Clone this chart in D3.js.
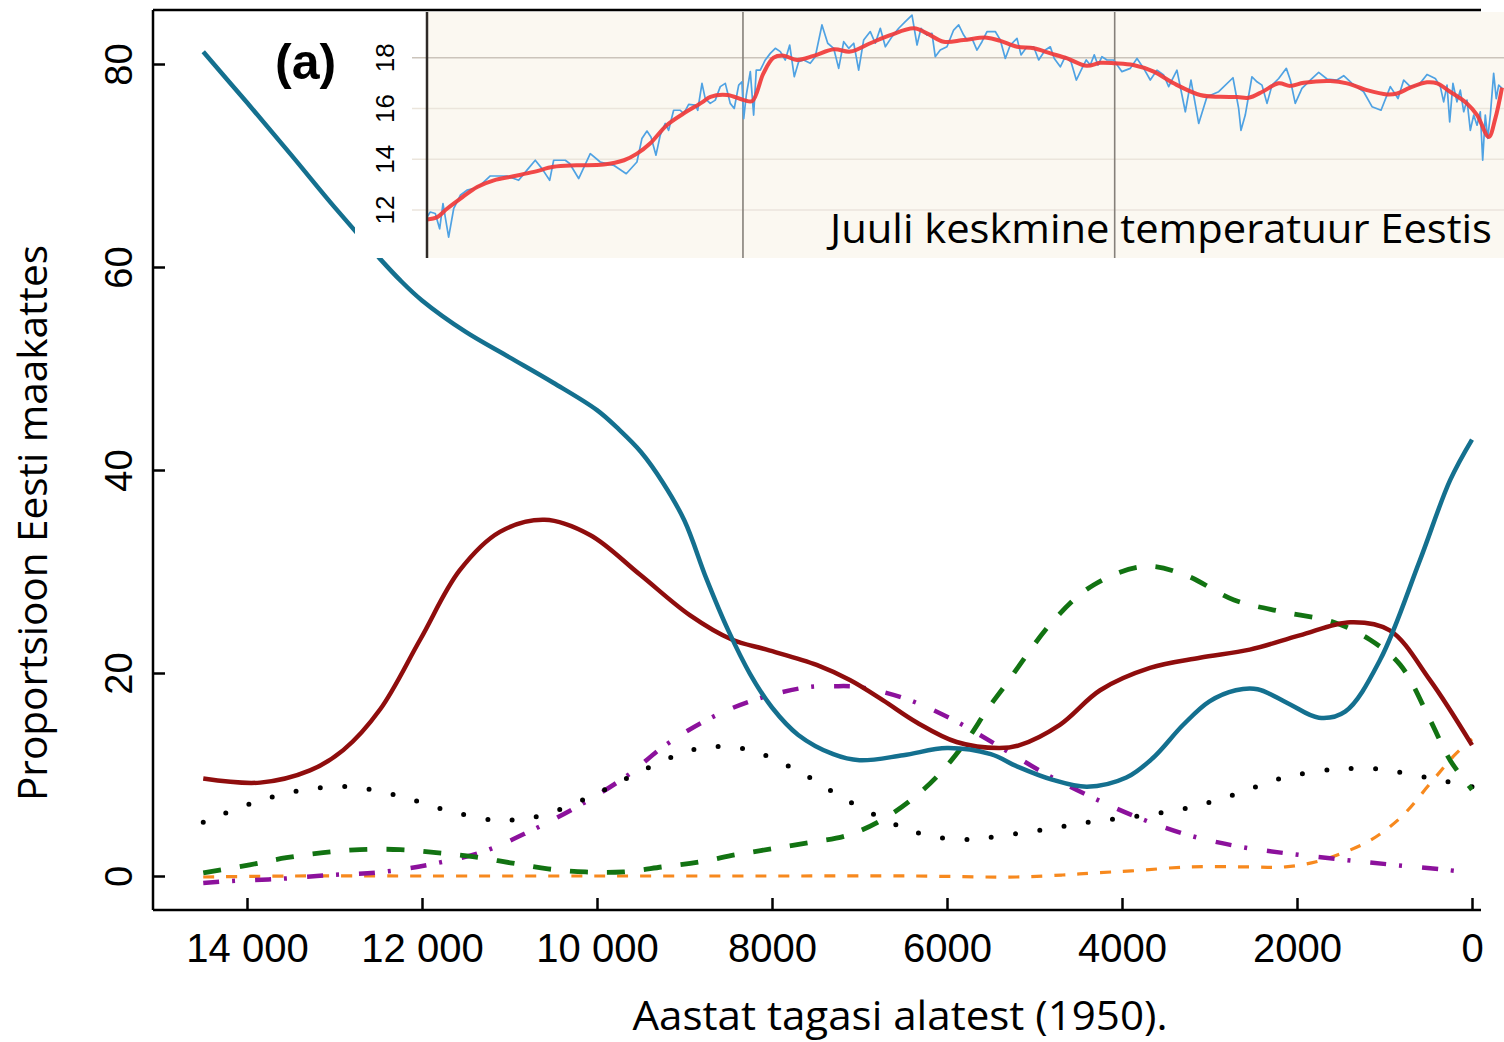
<!DOCTYPE html>
<html><head><meta charset="utf-8">
<script src="https://cdn.jsdelivr.net/npm/d3@7"></script>
<style>body{margin:0;background:#fff;} svg{display:block;}</style>
</head><body>
<svg id="c" width="1504" height="1042"></svg>
<script>
// ---------- main chart data (years BP, proportion %) ----------
const xTickValues = [14000, 12000, 10000, 8000, 6000, 4000, 2000, 0];
const xTickLabels = ["14 000", "12 000", "10 000", "8000", "6000", "4000", "2000", "0"];
const yTickValues = [0, 20, 40, 60, 80];

const seriesTeal = [[14500,81.2],[14000,76.2],[13500,71.1],[13000,65.9],[12500,61.0],[12250,58.7],[12000,56.7],[11500,53.6],[11000,51.1],[10500,48.6],[10000,45.9],[9750,44.0],[9500,41.8],[9250,38.8],[9000,35.0],[8750,29.3],[8500,24.2],[8250,19.9],[8000,16.6],[7700,13.9],[7300,12.0],[7000,11.4],[6500,11.9],[6000,12.6],[5500,12.0],[5200,10.8],[4800,9.5],[4400,8.8],[3950,9.7],[3650,11.6],[3300,14.9],[3000,17.2],[2700,18.3],[2450,18.4],[2100,17.0],[1750,15.6],[1450,16.2],[1050,21.3],[600,31.0],[250,39.0],[0,43.0]];
const seriesDarkRed = [[14500,9.6],[13850,9.2],[13280,10.4],[12900,12.4],[12480,16.4],[12020,23.3],[11570,30.1],[11110,33.9],[10600,35.1],[10080,33.6],[9510,29.7],[8940,25.7],[8460,23.3],[8060,22.3],[7490,20.8],[7110,19.3],[6730,17.3],[6340,15.1],[5890,13.2],[5400,12.6],[5170,12.9],[4710,14.9],[4250,18.3],[3680,20.5],[3110,21.5],[2540,22.3],[1970,23.7],[1390,25.0],[940,24.2],[480,19.3],[0,12.9]];
const seriesGreen = [[14500,0.3],[13970,1.1],[13550,1.8],[13130,2.3],[12710,2.6],[12250,2.6],[11840,2.3],[11420,1.9],[10990,1.3],[10560,0.7],[10130,0.4],[9700,0.4],[9250,0.9],[8820,1.4],[8410,2.1],[7990,2.7],[7570,3.3],[7140,4.0],[6750,5.5],[6380,7.7],[6070,10.2],[5770,13.4],[5540,16.4],[5350,18.6],[4780,25.2],[4320,28.7],[3750,30.5],[3290,29.7],[2720,27.2],[2150,26.0],[1580,25.0],[1170,23.3],[820,20.8],[480,15.4],[250,11.4],[0,8.5]];
const seriesBlackDotted = [[14500,5.3],[13970,7.1],[13410,8.4],[12850,8.8],[12270,7.9],[11730,6.5],[11170,5.5],[10880,5.6],[10580,6.1],[10060,7.9],[9550,10.1],[9030,12.1],[8750,12.7],[8460,12.7],[8170,12.2],[7650,10.1],[7170,7.6],[6650,5.3],[6390,4.4],[6100,3.8],[5820,3.6],[5520,3.8],[4950,4.5],[4380,5.3],[3820,5.9],[3250,6.7],[2690,8.1],[2150,9.7],[1590,10.5],[1300,10.6],[1030,10.5],[460,9.6],[0,8.8]];
const seriesPurple = [[14500,-0.7],[14190,-0.5],[13660,-0.3],[13030,0.1],[12450,0.4],[11870,1.2],[11300,2.4],[10770,4.4],[10190,7.0],[9620,10.1],[9250,12.7],[8740,15.4],[8220,17.3],[7600,18.6],[7300,18.7],[6990,18.6],[6420,17.3],[5890,15.2],[5430,12.9],[4860,10.0],[4330,7.7],[3800,5.7],[3230,4.0],[2660,2.9],[2090,2.2],[1470,1.6],[900,1.1],[290,0.6],[0,0.3]];
const seriesOrange = [[14500,-0.1],[13500,0.0],[12000,0.0],[10000,0.0],[8000,0.0],[6400,0.0],[5200,-0.1],[4680,0.1],[4330,0.3],[3890,0.5],[3230,0.9],[2570,0.9],[2130,0.9],[1780,1.4],[1470,2.3],[1165,3.5],[810,5.8],[460,9.3],[200,11.9],[0,13.5]];

// ---------- inset data (years BP, July temperature °C) ----------
const insetTickValues = [12, 14, 16, 18];
const insetPeriodLines = [8200, 4200];
const insetRaw = [[11600,11.72],[11565,11.92],[11511,11.86],[11464,11.26],[11428,12.25],[11367,10.93],[11313,12.05],[11242,12.58],[11170,12.78],[11098,12.84],[11027,12.97],[10919,13.34],[10739,13.34],[10614,13.17],[10524,13.57],[10435,13.96],[10363,13.63],[10280,13.17],[10237,13.96],[10112,13.96],[10065,13.83],[9968,13.24],[9843,14.22],[9736,13.89],[9591,13.76],[9456,13.43],[9341,13.89],[9287,14.82],[9233,15.11],[9190,14.88],[9136,14.16],[9090,14.95],[9036,15.41],[9000,15.14],[8946,15.93],[8875,15.93],[8838,15.8],[8784,16.16],[8713,16.13],[8687,15.93],[8641,16.99],[8606,16.39],[8552,16.2],[8498,16.33],[8444,16.86],[8390,16.99],[8337,16.2],[8294,16.0],[8246,16.92],[8211,17.05],[8192,15.6],[8164,16.53],[8121,17.45],[8085,15.74],[8057,17.51],[8014,17.51],[7960,17.91],[7906,18.17],[7852,18.37],[7798,18.24],[7745,17.91],[7697,18.5],[7648,17.25],[7601,17.84],[7547,17.91],[7476,17.78],[7422,18.04],[7350,19.29],[7288,18.57],[7224,18.37],[7170,17.58],[7116,18.63],[7062,18.37],[7008,18.57],[6955,17.51],[6901,18.7],[6830,19.03],[6776,18.57],[6722,19.16],[6668,18.43],[6596,18.83],[6524,19.16],[6453,19.42],[6381,19.68],[6327,18.5],[6284,19.16],[6220,18.89],[6166,18.96],[6131,18.04],[6077,18.3],[6005,18.43],[5933,19.09],[5879,19.29],[5825,18.89],[5789,18.7],[5736,18.76],[5682,18.3],[5628,18.63],[5574,19.03],[5485,19.03],[5431,18.7],[5377,17.97],[5323,18.5],[5251,18.76],[5208,18.11],[5144,18.43],[5072,18.43],[5018,17.91],[4947,18.3],[4893,18.43],[4850,17.97],[4785,17.64],[4732,18.04],[4670,17.84],[4613,17.12],[4552,17.58],[4506,17.91],[4463,17.71],[4420,18.11],[4380,17.71],[4337,18.04],[4283,17.91],[4211,17.91],[4122,17.45],[4032,17.58],[3960,17.97],[3888,17.58],[3817,17.12],[3745,17.51],[3673,17.32],[3619,16.86],[3530,17.51],[3440,15.87],[3379,17.12],[3296,15.41],[3207,16.46],[3081,16.66],[2927,17.21],[2866,16.0],[2841,15.14],[2795,15.74],[2723,17.25],[2669,17.05],[2615,16.92],[2561,16.2],[2507,16.92],[2435,17.18],[2353,17.58],[2310,17.12],[2257,16.2],[2185,16.79],[2095,17.12],[2005,17.42],[1915,17.16],[1808,17.12],[1736,17.29],[1646,16.99],[1521,16.66],[1431,16.07],[1334,15.93],[1234,16.86],[1151,16.39],[1090,17.12],[1019,16.86],[929,16.92],[839,17.34],[750,17.18],[696,16.86],[660,16.26],[624,16.92],[595,15.47],[560,16.99],[517,16.26],[481,16.72],[444,15.87],[409,16.33],[373,15.14],[337,15.74],[301,15.34],[266,15.87],[240,13.96],[212,15.74],[186,14.82],[158,15.74],[122,17.38],[94,16.39],[68,16.92],[32,16.79]];
const insetSmooth = [[11600,11.63],[11490,11.72],[11385,12.05],[11240,12.45],[11060,12.91],[10880,13.17],[10670,13.33],[10450,13.5],[10240,13.7],[9990,13.76],[9700,13.79],[9480,13.96],[9340,14.22],[9200,14.62],[9020,15.34],[8840,15.8],[8640,16.24],[8550,16.46],[8370,16.53],[8190,16.33],[8100,16.29],[7980,17.38],[7870,18.0],[7760,18.08],[7620,17.91],[7440,18.07],[7220,18.33],[7045,18.24],[6830,18.57],[6615,18.89],[6360,19.16],[6220,18.96],[6040,18.63],[5825,18.7],[5575,18.79],[5430,18.66],[5250,18.43],[5070,18.37],[4890,18.17],[4710,17.97],[4500,17.68],[4355,17.8],[4195,17.78],[4000,17.71],[3780,17.45],[3565,16.99],[3280,16.53],[3065,16.46],[2880,16.45],[2760,16.42],[2600,16.68],[2435,16.99],[2310,16.89],[2165,17.01],[1880,17.08],[1700,16.99],[1485,16.72],[1270,16.55],[1160,16.59],[1020,16.82],[840,17.03],[730,16.99],[590,16.66],[410,16.2],[300,15.74],[175,14.88],[104,15.61],[32,16.82]];

// ---------- drawing ----------
const svg = d3.select("#c");
const xMain = d3.scaleLinear().domain([14000, 0]).range([247, 1472]);
const yMain = d3.scaleLinear().domain([0, 80]).range([876, 64]);
const plotL = 153, plotR = 1481, plotT = 10, plotB = 910;

const main = svg.append("g");
const line = d3.line().x(d => xMain(d[0])).y(d => yMain(d[1])).curve(d3.curveCatmullRom.alpha(0.5));

const series = [
  {data: seriesOrange, color: "#f7891e", width: 3.2, dash: "11 12", cap: "butt"},
  {data: seriesPurple, color: "#8c119c", width: 4.5, dash: "16 13 3 20", cap: "butt"},
  {data: seriesBlackDotted, color: "#000", width: 5, dash: "0 24.5", cap: "round"},
  {data: seriesGreen, color: "#127312", width: 4.8, dash: "18 19", cap: "butt"},
  {data: seriesDarkRed, color: "#8f0d0d", width: 4.5, dash: null, cap: "butt"},
  {data: seriesTeal, color: "#14708f", width: 4.5, dash: null, cap: "butt"}
];
main.selectAll("path.s").data(series).join("path")
  .attr("class", "s")
  .attr("d", d => line(d.data))
  .attr("fill", "none")
  .attr("stroke", d => d.color)
  .attr("stroke-width", d => d.width)
  .attr("stroke-dasharray", d => d.dash)
  .attr("stroke-linecap", d => d.cap)
  .attr("stroke-linejoin", "round");

// axes
const xAxis = d3.axisBottom(xMain).tickValues(xTickValues)
  .tickFormat((d, i) => xTickLabels[i]).tickSize(-12).tickSizeOuter(0);
const gx = svg.append("g").attr("transform", `translate(0,${plotB})`).call(xAxis);
gx.select(".domain").remove();
gx.selectAll(".tick line").attr("stroke", "#000").attr("stroke-width", 2.5);
gx.selectAll(".tick text").attr("y", 52).attr("dy", null)
  .style("font-family", "'Liberation Sans', Arial, sans-serif").style("font-size", "40px").attr("fill", "#000");

const yAxis = d3.axisLeft(yMain).tickValues(yTickValues).tickSize(-12).tickSizeOuter(0).tickFormat(d3.format("d"));
const gy = svg.append("g").attr("transform", `translate(${plotL},0)`).call(yAxis);
gy.select(".domain").remove();
gy.selectAll(".tick line").attr("stroke", "#000").attr("stroke-width", 2.5);
gy.selectAll(".tick text")
  .attr("x", null).attr("dy", null)
  .attr("transform", "translate(-21,0) rotate(-90)")
  .attr("text-anchor", "middle").attr("y", 0)
  .style("font-family", "'Liberation Sans', Arial, sans-serif").style("font-size", "38px").attr("fill", "#000");

// frame lines
svg.append("line").attr("x1", plotL).attr("x2", plotL).attr("y1", plotT).attr("y2", plotB).attr("stroke", "#000").attr("stroke-width", 2.5);
svg.append("line").attr("x1", plotL).attr("x2", plotR).attr("y1", plotB).attr("y2", plotB).attr("stroke", "#000").attr("stroke-width", 2.5);

// axis titles
svg.append("text").attr("x", 900).attr("y", 1030).attr("text-anchor", "middle")
  .attr("textLength", 535).attr("lengthAdjust", "spacingAndGlyphs")
  .style("font-family", "'Open Sans', sans-serif").style("font-size", "40px")
  .text("Aastat tagasi alatest (1950).");
svg.append("text").attr("transform", "translate(47,523) rotate(-90)").attr("text-anchor", "middle")
  .attr("textLength", 556).attr("lengthAdjust", "spacingAndGlyphs")
  .style("font-family", "'Open Sans', sans-serif").style("font-size", "40px")
  .text("Proportsioon Eesti maakattes");

// ---------- inset ----------
const insL = 427, insR = 1504, insT = 12, insB = 258;
const xIns = d3.scaleLinear().domain([11600, 0]).range([427, 1505]);
const yIns = d3.scaleLinear().domain([12, 18]).range([210, 57.7]);
const ins = svg.append("g");
ins.append("rect").attr("x", 355).attr("y", insT).attr("width", insR - 355).attr("height", insB - insT).attr("fill", "#fff");
ins.append("rect").attr("x", insL).attr("y", insT).attr("width", insR - insL).attr("height", insB - insT).attr("fill", "#fbf8f1");
svg.append("clipPath").attr("id", "insclip").append("rect")
  .attr("x", insL).attr("y", insT).attr("width", insR - insL).attr("height", insB - insT);

ins.selectAll("line.grid").data(insetTickValues).join("line").attr("class", "grid")
  .attr("x1", 412).attr("x2", insR).attr("y1", d => yIns(d)).attr("y2", d => yIns(d))
  .attr("stroke", d => d === 18 ? "#cbc4bb" : "#ebe5dc").attr("stroke-width", 1.6);
ins.selectAll("text.yt").data(insetTickValues).join("text").attr("class", "yt")
  .attr("transform", d => `translate(394,${yIns(d)}) rotate(-90)`)
  .attr("text-anchor", "middle")
  .style("font-family", "'Liberation Sans', Arial, sans-serif").style("font-size", "26px")
  .text(d => d);

ins.append("text").attr("x", 830).attr("y", 243)
  .attr("textLength", 662).attr("lengthAdjust", "spacingAndGlyphs")
  .style("font-family", "'Open Sans', sans-serif").style("font-size", "41px")
  .text("Juuli keskmine temperatuur Eestis");

ins.selectAll("line.per").data(insetPeriodLines).join("line").attr("class", "per")
  .attr("x1", d => xIns(d)).attr("x2", d => xIns(d)).attr("y1", insT).attr("y2", insB)
  .attr("stroke", "#85807a").attr("stroke-width", 1.6);

const insLine = d3.line().x(d => xIns(d[0])).y(d => yIns(d[1]));
const insG = ins.append("g").attr("clip-path", "url(#insclip)");
insG.append("path").attr("d", insLine(insetRaw)).attr("fill", "none")
  .attr("stroke", "#4fa2e3").attr("stroke-width", 1.7).attr("stroke-linejoin", "round");
insG.append("path").attr("d", insLine.curve(d3.curveCatmullRom.alpha(0.5))(insetSmooth)).attr("fill", "none")
  .attr("stroke", "#f03a3a").attr("stroke-width", 4).attr("stroke-opacity", 0.92).attr("stroke-linejoin", "round");

ins.append("line").attr("x1", insL).attr("x2", insL).attr("y1", insT).attr("y2", insB)
  .attr("stroke", "#2e2a27").attr("stroke-width", 2.5);

// top frame line
svg.append("line").attr("x1", plotL).attr("x2", plotR).attr("y1", plotT).attr("y2", plotT).attr("stroke", "#000").attr("stroke-width", 2.5);

// panel label
svg.append("text").attr("x", 275).attr("y", 79)
  .style("font-family", "'Liberation Sans', Arial, sans-serif").style("font-size", "50px").style("font-weight", "bold")
  .text("(a)");
</script>
</body></html>
